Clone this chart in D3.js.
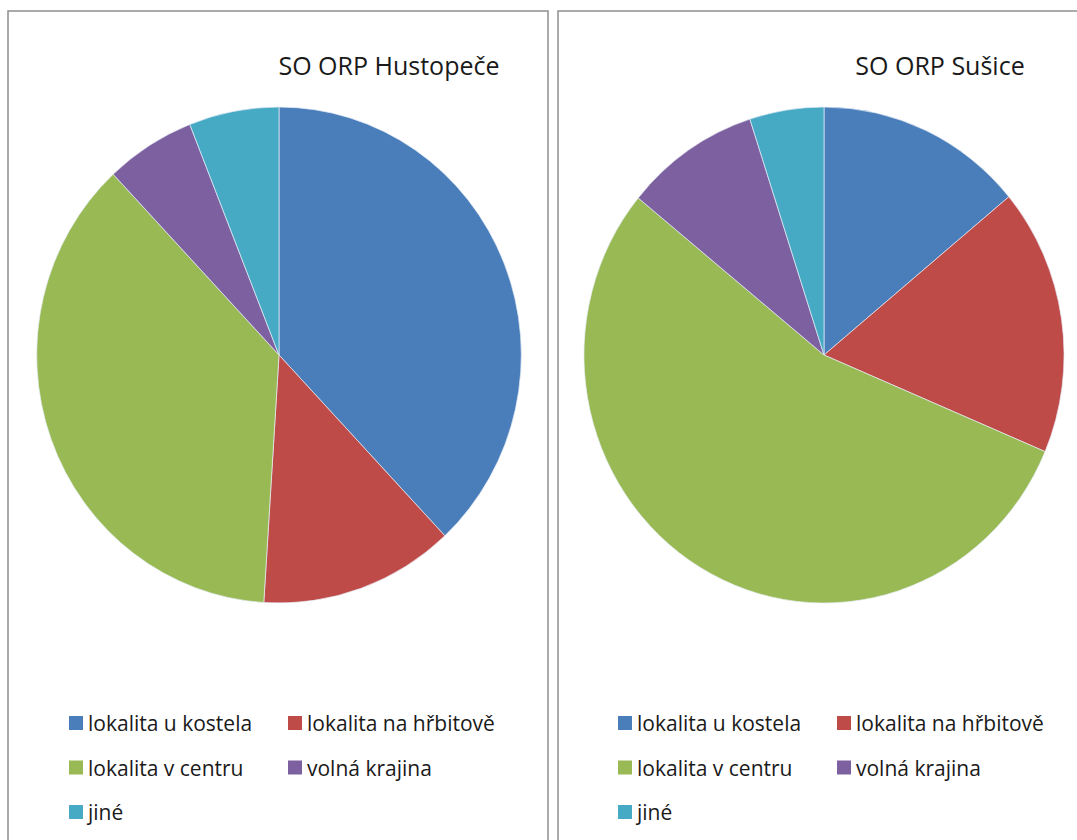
<!DOCTYPE html>
<html>
<head>
<meta charset="utf-8">
<script src="https://cdn.jsdelivr.net/npm/d3@7"></script>
<style>
  body { margin: 0; background: #fff; }
  svg { display: block; }
</style>
</head>
<body>
<div class="graph-section"></div>
<script>
// categories, shared by both pies
var categories = ["lokalita u kostela", "lokalita na hřbitově", "lokalita v centru", "volná krajina", "jiné"];
var colorList = ["#4a7ebb", "#be4b48", "#98b954", "#7d60a0", "#46aac5"];

// shares (percent)
var hustopeceValues = [38, 13, 37, 6, 6];
var susiceValues = [14, 17.4, 54.6, 9.1, 5];

var panelTitles = ["SO ORP Hustopeče", "SO ORP Sušice"];

var screen = { width: 1077, height: 840 };

var panels = [
  { title: panelTitles[0], values: hustopeceValues, x: 8, w: 540, cx: 279, sx: 0.977, titleX: 389, legX: 69 },
  { title: panelTitles[1], values: susiceValues, x: 558, w: 540, cx: 824, sx: 0.968, titleX: 940, legX: 618 }
];

var colors = d3.scaleOrdinal().domain(categories).range(colorList);

var svg = d3.select(".graph-section")
  .append("svg")
  .attr("width", screen.width)
  .attr("height", screen.height);

var radius = 248;
var pieCy = 355;

var pie = d3.pie()
  .sort(null)
  .value(function(d) { return d.value; });

var arc = d3.arc()
  .innerRadius(0)
  .outerRadius(radius);

var drawPanel = function(p) {
  var g = svg.append("g").classed("panel", true);

  g.append("rect")
    .attr("x", p.x)
    .attr("y", 11)
    .attr("width", p.w)
    .attr("height", 860)
    .attr("fill", "#fff")
    .attr("stroke", "#8f8f8f")
    .attr("stroke-width", 1.5);

  g.append("text")
    .attr("x", p.titleX)
    .attr("y", 75)
    .attr("text-anchor", "middle")
    .attr("font-family", "'Open Sans', sans-serif")
    .attr("font-size", 25)
    .attr("fill", "#1a1a1a")
    .text(p.title);

  var data = categories.map(function(c, i) { return { name: c, value: p.values[i] }; });

  var pieG = g.append("g")
    .attr("transform", "translate(" + p.cx + "," + pieCy + ") scale(" + p.sx + ",1)");

  pieG.selectAll("path")
    .data(pie(data))
    .enter()
    .append("path")
    .attr("d", arc)
    .attr("fill", function(d) { return colors(d.data.name); })
    .attr("stroke", "#e8eef6")
    .attr("stroke-width", 0.7);

  var legend = g.append("g")
    .classed("legend", true)
    .attr("transform", "translate(" + p.legX + ",723)");

  var lines = legend.selectAll("g")
    .data(categories)
    .enter()
    .append("g")
    .attr("transform", function(d, i) {
      var x = (i % 2) * 219;
      var y = Math.floor(i / 2) * 44.5;
      return "translate(" + x + "," + y + ")";
    });

  lines.append("rect")
    .attr("x", 0)
    .attr("y", -7)
    .attr("width", 14)
    .attr("height", 14)
    .attr("fill", function(d) { return colors(d); });

  lines.append("text")
    .attr("x", 19)
    .attr("y", 8)
    .attr("font-family", "'Open Sans', sans-serif")
    .attr("font-size", 21)
    .attr("fill", "#1a1a1a")
    .text(function(d) { return d; });
};

panels.forEach(drawPanel);
</script>
</body>
</html>
